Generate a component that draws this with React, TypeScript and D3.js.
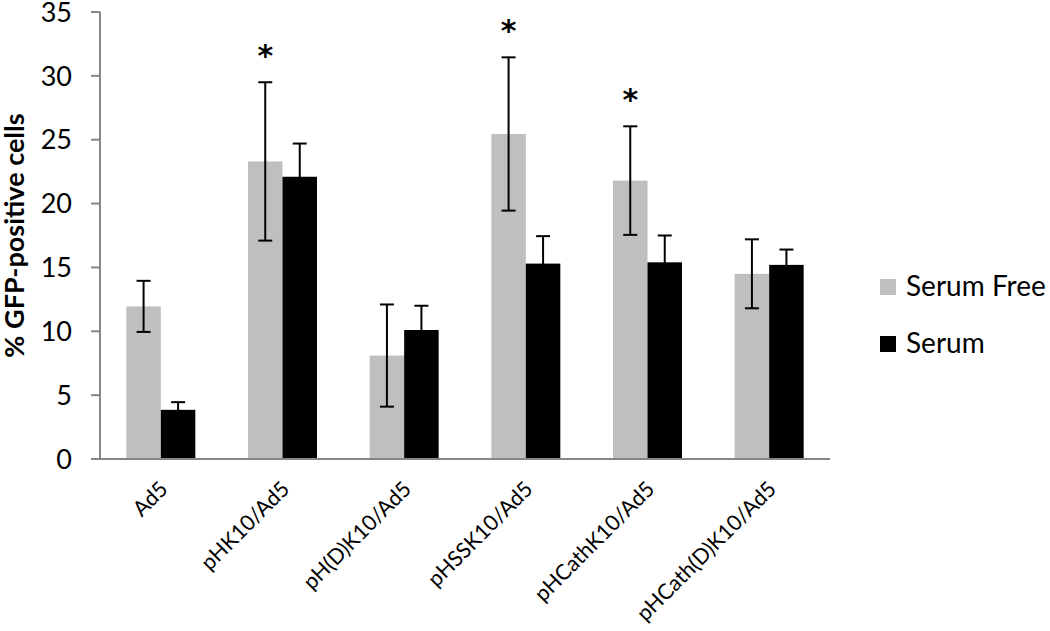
import React from "react";
import * as d3 from "d3";

const categories = ["Ad5", "pHK10/Ad5", "pH(D)K10/Ad5", "pHSSK10/Ad5", "pHCathK10/Ad5", "pHCath(D)K10/Ad5"];
const seriesNames = ["Serum Free", "Serum"];
const serumFree = [11.95, 23.3, 8.1, 25.45, 21.8, 14.5];
const serumFreeErr = [2.0, 6.2, 4.0, 6.0, 4.25, 2.7];
const serum = [3.85, 22.1, 10.1, 15.3, 15.4, 15.2];
const serumErr = [0.6, 2.6, 1.9, 2.15, 2.1, 1.2];
const significant = [false, true, false, true, true, false];
const yTicks = [0, 5, 10, 15, 20, 25, 30, 35];
const colors = ["#BFBFBF", "#000000"];

const FONT = "Lato, 'Open Sans', sans-serif";

export default function App() {
  const W = 1050, H = 631;
  const x0 = 100, x1 = 830, yTop = 12, yBot = 459;
  const x = d3.scaleBand<string>().domain(categories).range([x0, x1]).padding(0);
  const y = d3.scaleLinear().domain([0, 35]).range([yBot, yTop]);
  const barW = 34.5;
  const inner = d3.scaleBand<string>().domain(seriesNames).range([-barW, barW]).padding(0);
  const data = [
    { name: seriesNames[0], vals: serumFree, errs: serumFreeErr, color: colors[0] },
    { name: seriesNames[1], vals: serum, errs: serumErr, color: colors[1] },
  ];
  const axisColor = "#868686";
  const capW = 7;
  return (
    <svg width={W} height={H} style={{ display: "block", position: "absolute", left: 0, top: 0 }} fontFamily={FONT}>
      <rect width={W} height={H} fill="#fff" />
      {data.map((s) =>
        categories.map((c, i) => {
          const cx = (x(c) as number) + x.bandwidth() / 2;
          const bx = cx + (inner(s.name) as number);
          const v = s.vals[i];
          return (
            <rect key={s.name + c} x={bx} y={y(v)} width={inner.bandwidth()} height={y(0) - y(v)} fill={s.color} />
          );
        })
      )}
      {data.map((s) =>
        categories.map((c, i) => {
          const cx = (x(c) as number) + x.bandwidth() / 2;
          const bx = cx + (inner(s.name) as number);
          const v = s.vals[i];
          const e = s.errs[i];
          const mx = bx + inner.bandwidth() / 2;
          return (
            <g key={"e" + s.name + c} stroke="#000" strokeWidth={2}>
              <line x1={mx} x2={mx} y1={y(v - e)} y2={y(v + e)} />
              <line x1={mx - capW} x2={mx + capW} y1={y(v + e)} y2={y(v + e)} />
              <line x1={mx - capW} x2={mx + capW} y1={y(v - e)} y2={y(v - e)} />
            </g>
          );
        })
      )}
      {categories.map((c, i) =>
        significant[i] ? (
          <text
            key={"s" + c}
            x={(x(c) as number) + x.bandwidth() / 2 - barW / 2}
            y={y(serumFree[i] + serumFreeErr[i]) - 16}
            textAnchor="middle"
            fontSize={30}
            fontWeight="bold"
            fontFamily="'DejaVu Sans', sans-serif"
          >
            *
          </text>
        ) : null
      )}
      {/* y axis */}
      <line x1={x0} x2={x0} y1={yTop} y2={yBot} stroke={axisColor} strokeWidth={2} />
      {yTicks.map((t) => (
        <g key={"t" + t}>
          <line x1={x0 - 9} x2={x0} y1={y(t)} y2={y(t)} stroke={axisColor} strokeWidth={2} />
          <text x={72} y={y(t)} dy="0.36em" textAnchor="end" fontSize={27} fill="#000">
            {t}
          </text>
        </g>
      ))}
      {/* x axis */}
      <line x1={x0 - 9} x2={x1} y1={yBot} y2={yBot} stroke={axisColor} strokeWidth={2} />
      {categories.map((c) => {
        const cx = (x(c) as number) + x.bandwidth() / 2;
        return (
          <text
            key={"l" + c}
            transform={`translate(${cx + 3},${yBot + 26}) rotate(-45)`}
            textAnchor="end"
            dy="0.35em"
            fontSize={21.5}
            fill="#000"
          >
            {c}
          </text>
        );
      })}
      <text
        transform={`translate(24,${(yTop + yBot) / 2}) rotate(-90)`}
        textAnchor="middle"
        fontSize={27}
        fontWeight="bold"
        fill="#000"
      >
        % GFP-positive cells
      </text>
      {/* legend */}
      {data.map((s, i) => (
        <g key={"lg" + s.name} transform={`translate(880,${279 + i * 57})`}>
          <rect x={0} y={0} width={16} height={16} fill={s.color} />
          <text x={26} y={17} fontSize={28} fill="#000">
            {s.name}
          </text>
        </g>
      ))}
    </svg>
  );
}
